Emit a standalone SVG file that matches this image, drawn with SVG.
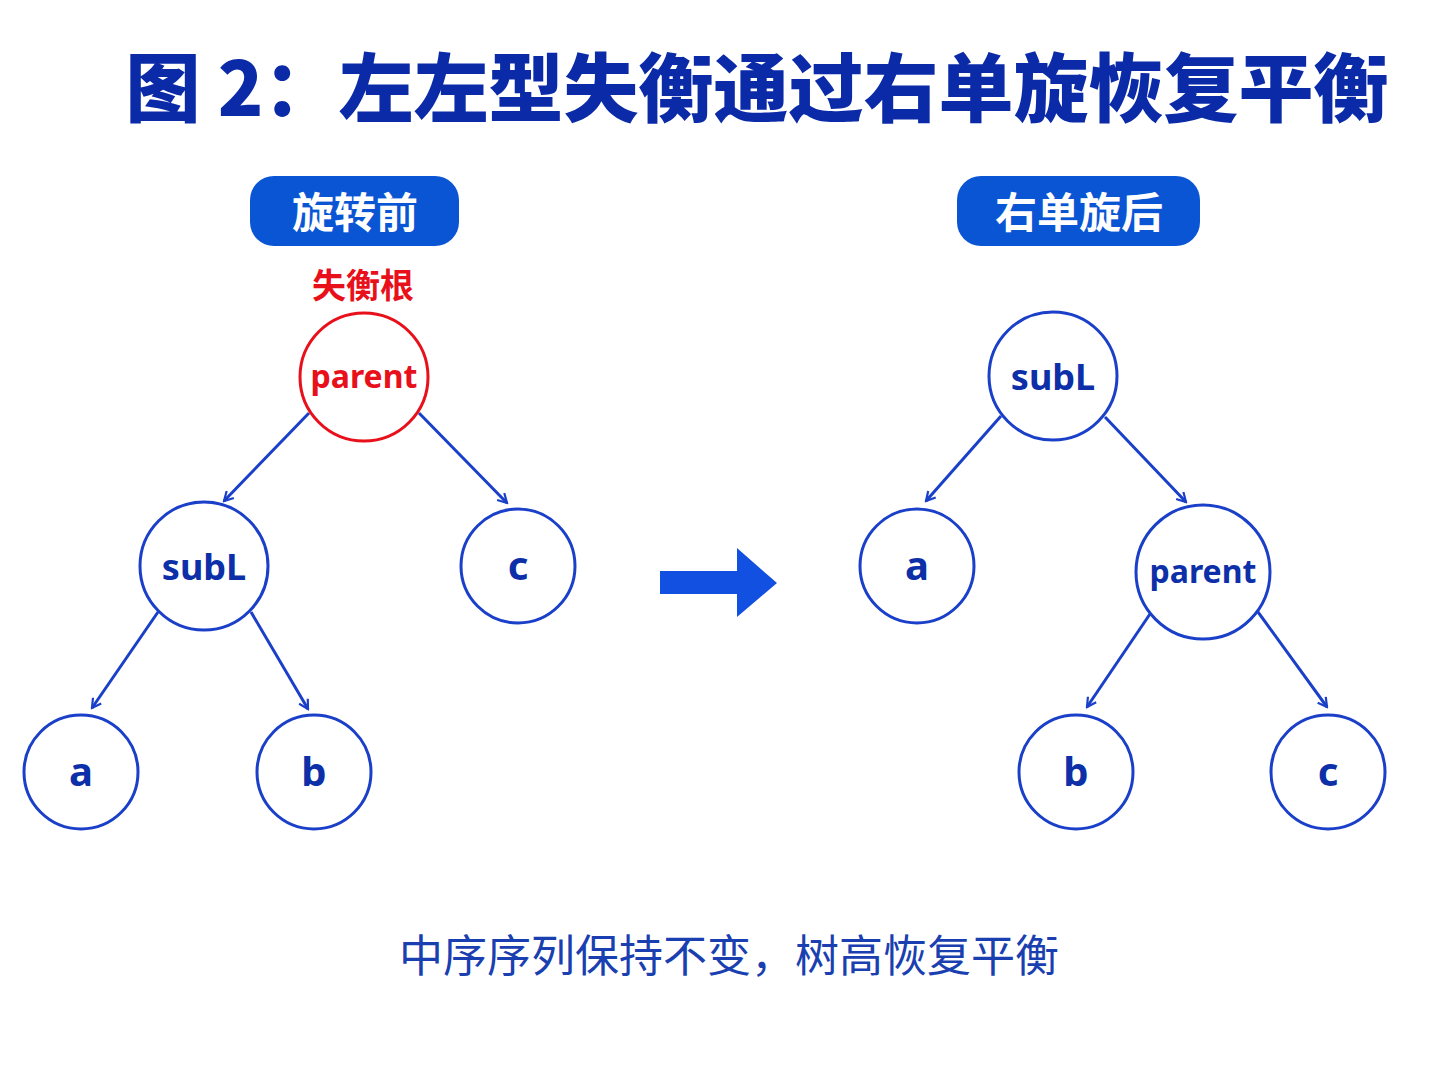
<svg xmlns="http://www.w3.org/2000/svg" width="1448" height="1086" viewBox="0 0 1448 1086">
<defs>
<marker id="ah" viewBox="0 0 12 12" refX="10" refY="6" markerWidth="12" markerHeight="12" markerUnits="userSpaceOnUse" orient="auto"><path d="M1,1 L10,6 L1,11" fill="none" stroke="#1a3fc8" stroke-width="2.2"/></marker>
</defs>
<style>
.n{fill:#fff;stroke:#1a3fc8;stroke-width:3}
.t{font-family:"Noto Sans","Noto Sans CJK SC",sans-serif;font-weight:bold;fill:#0d2fa8;text-anchor:middle}
.e{stroke:#1a3fc8;stroke-width:3;fill:none;marker-end:url(#ah)}
.b{fill:#0a55d4}
.bt{font-family:"Noto Sans CJK SC",sans-serif;font-weight:bold;fill:#fff;font-size:42px;text-anchor:middle}
</style>
<rect width="1448" height="1086" fill="#fff"/>
<text x="757" y="116" font-family="Noto Sans CJK SC,sans-serif" font-weight="900" font-size="75" fill="#0a2aa8" text-anchor="middle">图 2：左左型失衡通过右单旋恢复平衡</text>
<g id="badge1"><rect class="b" x="250" y="176" width="209" height="70" rx="24"/><text class="bt" x="355" y="228">旋转前</text></g>
<g id="badge2"><rect class="b" x="957" y="176" width="243" height="70" rx="24"/><text class="bt" x="1079" y="228">右单旋后</text></g>
<text x="363" y="298" font-family="Noto Sans CJK SC,sans-serif" font-weight="bold" font-size="34" fill="#e8101a" text-anchor="middle">失衡根</text>
<g id="connectors">
<line class="e" x1="309" y1="413" x2="224" y2="501"/>
<line class="e" x1="419" y1="413" x2="507" y2="503"/>
<line class="e" x1="158" y1="612" x2="92" y2="708"/>
<line class="e" x1="251" y1="612" x2="308" y2="709"/>
<line class="e" x1="1001" y1="416" x2="926" y2="501"/>
<line class="e" x1="1105" y1="417" x2="1186" y2="502"/>
<line class="e" x1="1150" y1="614" x2="1087" y2="707"/>
<line class="e" x1="1258" y1="612" x2="1327" y2="707"/>
</g>
<g id="L_parent"><circle cx="364" cy="377" r="64" fill="#fff" stroke="#e8101a" stroke-width="3"/><text class="t" x="364" y="388" font-size="32" font-weight="600" style="fill:#e8101a">parent</text></g>
<g id="L_subL"><circle class="n" cx="204" cy="566" r="64"/><text class="t" x="204" y="580" font-size="36">subL</text></g>
<g id="L_c"><circle class="n" cx="518" cy="566" r="57"/><text class="t" x="518" y="580" font-size="40">c</text></g>
<g id="L_a"><circle class="n" cx="81" cy="772" r="57"/><text class="t" x="81" y="786" font-size="40">a</text></g>
<g id="L_b"><circle class="n" cx="314" cy="772" r="57"/><text class="t" x="314" y="786" font-size="40">b</text></g>
<g id="R_subL"><circle class="n" cx="1053" cy="376" r="64"/><text class="t" x="1053" y="390" font-size="36">subL</text></g>
<g id="R_a"><circle class="n" cx="917" cy="566" r="57"/><text class="t" x="917" y="580" font-size="40">a</text></g>
<g id="R_parent"><circle class="n" cx="1203" cy="572" r="67"/><text class="t" x="1203" y="583" font-size="32" font-weight="600">parent</text></g>
<g id="R_b"><circle class="n" cx="1076" cy="772" r="57"/><text class="t" x="1076" y="786" font-size="40">b</text></g>
<g id="R_c"><circle class="n" cx="1328" cy="772" r="57"/><text class="t" x="1328" y="786" font-size="40">c</text></g>
<g id="bigarrow"><path d="M660,571 H737 V548 L777,583 L737,617 V594 H660 Z" fill="#1150e0"/></g>
<text x="729" y="972" font-family="Noto Sans CJK SC,sans-serif" font-size="44" fill="#1a3fb0" text-anchor="middle">中序序列保持不变，树高恢复平衡</text>
</svg>
